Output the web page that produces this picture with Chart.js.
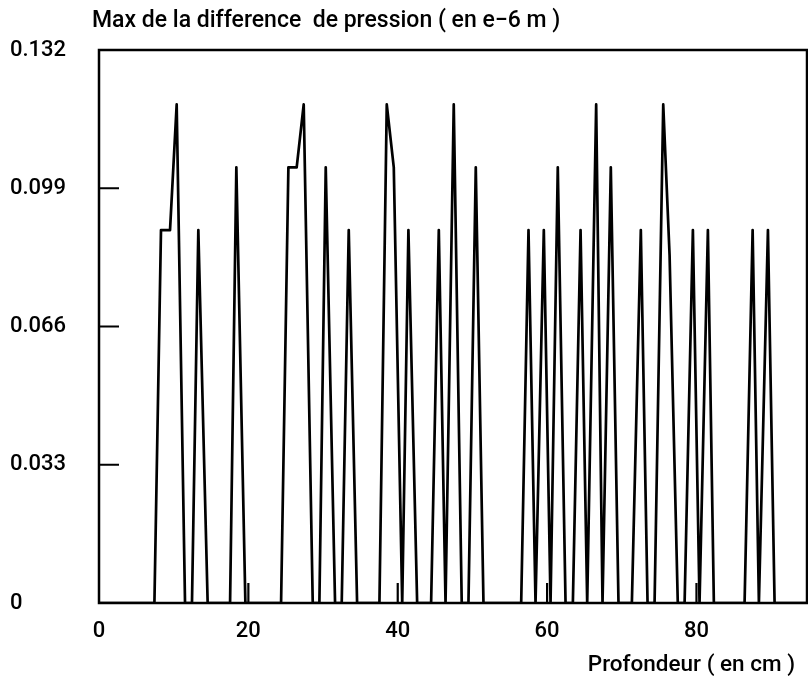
<!DOCTYPE html>
<html>
<head>
<meta charset="utf-8">
<script src="https://cdn.jsdelivr.net/npm/chart.js@4.4.1/dist/chart.umd.min.js"></script>
<style>
  html, body { margin: 0; padding: 0; background: #ffffff; }
  #wrap { width: 808px; height: 679px; position: relative; }
</style>
</head>
<body>
<div id="wrap"><canvas id="c" width="808" height="679"></canvas></div>
<script>
// Profondeur (cm) et maximum de la différence de pression (e-6 m)
const profondeur = [
  0,
  7.42, 8.30, 9.51, 10.40, 11.52,
  12.45, 13.30, 14.55,
  17.55, 18.39, 19.60,
  24.38, 25.36, 26.47, 27.41, 28.62,
  29.51, 30.36, 31.61,
  32.50, 33.44, 34.56,
  37.55, 38.53, 39.47, 40.60,
  41.43, 42.60,
  44.47, 45.50, 46.40,
  47.50, 48.57,
  49.47, 50.45, 51.48,
  56.53, 57.51, 58.45,
  59.56, 60.46,
  61.43, 62.47,
  63.45, 64.48, 65.37,
  66.57, 67.42,
  68.53, 69.56,
  71.35, 72.55, 73.45,
  74.39, 75.55, 76.40, 77.50,
  78.41, 79.52, 80.41,
  81.53, 82.33,
  86.44, 87.52, 88.36,
  89.57, 90.46,
  94.8
];
const difference = [
  0,
  0, 0.089, 0.089, 0.119, 0,
  0, 0.089, 0,
  0, 0.104, 0,
  0, 0.104, 0.104, 0.119, 0,
  0, 0.104, 0,
  0, 0.089, 0,
  0, 0.119, 0.104, 0,
  0.089, 0,
  0, 0.089, 0,
  0.119, 0,
  0, 0.104, 0,
  0, 0.089, 0,
  0.089, 0,
  0.104, 0,
  0, 0.089, 0,
  0.119, 0,
  0.104, 0,
  0, 0.089, 0,
  0, 0.119, 0.083, 0,
  0, 0.089, 0,
  0.089, 0,
  0, 0.089, 0,
  0.089, 0,
  0
];

const xTicks = [0, 20, 40, 60, 80];
const yTicks = [0, 0.033, 0.066, 0.099, 0.132];
const xMax = 94.8;

const titreY = 'Max de la difference  de pression ( en e\u22126 m )';
const titreX = 'Profondeur ( en cm )';

const police = 'Roboto, "DejaVu Sans", sans-serif';

const points = profondeur.map((x, i) => ({ x: x, y: difference[i] }));

// Cadre, graduations intérieures et titres des axes
const cadre = {
  id: 'cadre',
  afterDraw(chart) {
    const { ctx, chartArea: a, scales } = chart;
    ctx.save();
    ctx.strokeStyle = '#000';
    ctx.lineWidth = 2.5;
    ctx.strokeRect(a.left, a.top, a.right - a.left, a.bottom - a.top);

    ctx.lineWidth = 2.2;
    ctx.beginPath();
    yTicks.forEach(v => {
      if (v <= yTicks[0] || v >= yTicks[yTicks.length - 1]) return;
      const y = scales.y.getPixelForValue(v);
      ctx.moveTo(a.left, y);
      ctx.lineTo(a.left + 20, y);
    });
    xTicks.forEach(v => {
      if (v <= xTicks[0]) return;
      const x = scales.x.getPixelForValue(v);
      ctx.moveTo(x, a.bottom);
      ctx.lineTo(x, a.bottom - 20);
    });
    ctx.stroke();

    ctx.fillStyle = '#000';
    ctx.textBaseline = 'middle';
    ctx.textAlign = 'left';
    ctx.font = '500 23px ' + police;
    ctx.fillText(titreY, 92, 21);
    ctx.textAlign = 'right';
    ctx.font = '500 22.5px ' + police;
    ctx.fillText(titreX, 795, 665);
    ctx.restore();
  }
};

new Chart(document.getElementById('c'), {
  type: 'line',
  data: {
    datasets: [{
      data: points,
      borderColor: '#000',
      borderWidth: 2.7,
      pointRadius: 0,
      tension: 0,
      borderJoinStyle: 'round',
      fill: false
    }]
  },
  options: {
    responsive: false,
    animation: false,
    events: [],
    layout: { padding: { top: 50, right: 1, left: 10, bottom: 0 } },
    plugins: {
      legend: { display: false },
      tooltip: { enabled: false },
      title: { display: false }
    },
    scales: {
      x: {
        type: 'linear',
        min: 0,
        max: xMax,
        afterBuildTicks: s => { s.ticks = xTicks.map(v => ({ value: v })); },
        afterFit: s => { s.height = 76; },
        grid: { display: false, drawTicks: false },
        border: { display: false },
        ticks: {
          color: '#000',
          font: { family: police, size: 22, weight: '500' },
          padding: 15,
          maxRotation: 0,
          callback: v => String(v)
        }
      },
      y: {
        type: 'linear',
        min: 0,
        max: 0.132,
        afterBuildTicks: s => { s.ticks = yTicks.map(v => ({ value: v })); },
        afterFit: s => { s.width = 89; },
        grid: { display: false, drawTicks: false },
        border: { display: false },
        ticks: {
          color: '#000',
          crossAlign: 'far',
          font: { family: police, size: 22, weight: '500' },
          callback: v => String(v)
        }
      }
    }
  },
  plugins: [cadre]
});
</script>
</body>
</html>
